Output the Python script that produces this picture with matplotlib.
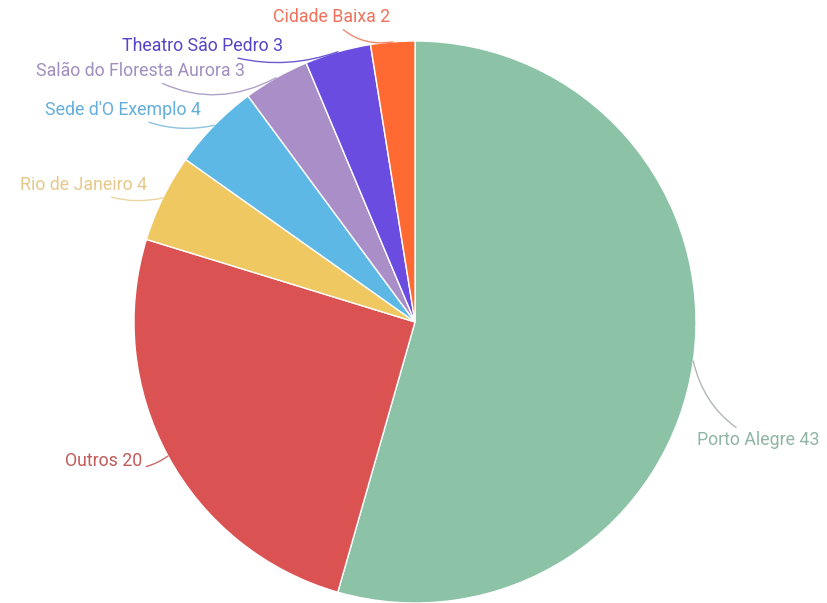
import matplotlib
matplotlib.use("Agg")
import matplotlib.pyplot as plt
import numpy as np

# Dados
labels = ["Porto Alegre", "Outros", "Rio de Janeiro", "Sede d'O Exemplo",
          "Salão do Floresta Aurora", "Theatro São Pedro", "Cidade Baixa"]
values = [43, 20, 4, 4, 3, 3, 2]

slice_colors = ["#8cc3a6", "#db5252", "#f0c862", "#5db8e6",
                "#a98ec8", "#6a4ce0", "#ff6a33"]
text_colors = ["#8fb5a5", "#c25a5a", "#e6c98a", "#63aedb",
               "#a08fc0", "#5545c8", "#f0705a"]
line_colors = ["#b0b8b4", "#c86a6a", "#ead6a0", "#8cc4e2",
               "#b0a2c8", "#6a5ad0", "#f08a70"]

W, H = 827, 603
CX, CY, R = 415, 322, 281

# posição dos rótulos (pixels, origem no topo) e alinhamento
label_pos = [(697, 440, "left"), (142, 461, "right"), (147, 185, "right"),
             (201, 110, "right"), (245, 71, "right"), (283, 46, "right"),
             (390, 17, "right")]
label_rad = [-0.25, 0.3, 0.2, 0.2, 0.3, 0.2, 0.3]


def to_data(px, py):
    return (px - CX) / R, (CY - py) / R


fig = plt.figure(figsize=(W / 100, H / 100), dpi=100)
ax = fig.add_axes([(CX - R) / W, (H - CY - R) / H, 2 * R / W, 2 * R / H])

wedges, _ = ax.pie(values, startangle=90, counterclock=False, radius=1,
                   colors=slice_colors,
                   wedgeprops={"edgecolor": "white", "linewidth": 1})
ax.set_xlim(-1, 1)
ax.set_ylim(-1, 1)
ax.set_aspect("equal")
ax.axis("off")

for w, lab, val, (px, py, ha), tc, lc, rad in zip(
        wedges, labels, values, label_pos, text_colors, line_colors, label_rad):
    ang = np.deg2rad((w.theta1 + w.theta2) / 2)
    x0, y0 = np.cos(ang), np.sin(ang)
    tx, ty = to_data(px, py)
    ax.annotate(f"{lab} {val}", xy=(x0, y0), xytext=(tx, ty),
                ha=ha, va="center", fontsize=12.8, family="Roboto",
                color=tc, annotation_clip=False,
                arrowprops=dict(arrowstyle="-", color=lc, lw=1,
                                shrinkA=1, shrinkB=0,
                                connectionstyle=f"arc3,rad={rad}"))

fig.savefig("out.png", dpi=100, facecolor="white")
